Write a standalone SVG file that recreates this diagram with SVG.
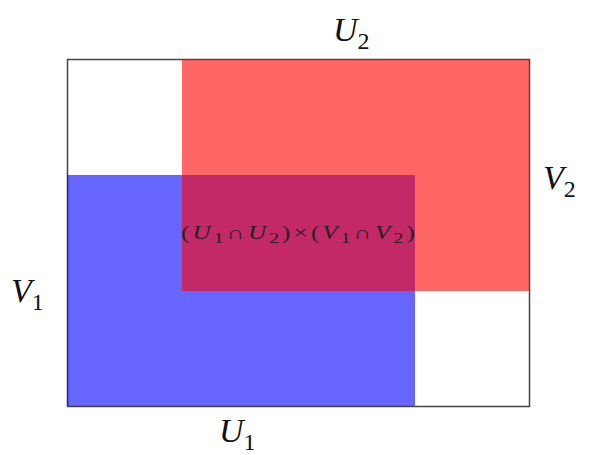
<svg xmlns="http://www.w3.org/2000/svg" width="590" height="455" viewBox="0 0 590 455">
<style>
.lbl{font-family:"Liberation Serif","DejaVu Serif",serif;font-style:italic;font-size:34px;fill:#111}
.sub{font-style:normal;font-size:24px}
.mid{font-family:"Liberation Serif","DejaVu Serif",serif;font-style:italic;font-size:18px;fill:#222}
.ms{font-style:normal;font-size:14px}
.up{font-style:normal}
</style>
<rect width="590" height="455" fill="#fff"/>
<g id="frame"><rect x="67.5" y="59.5" width="462" height="347" fill="none" stroke="#444" stroke-width="1.5"/></g>
<g id="blue"><rect x="67" y="175" width="348" height="231" fill="#0000ff" fill-opacity="0.6"/></g>
<g id="red"><rect x="182" y="59" width="347" height="232" fill="#ff0000" fill-opacity="0.6"/></g>
<g id="labels">
<text class="lbl" x="333" y="41">U<tspan class="sub" dy="8">2</tspan></text>
<text class="lbl" x="543" y="189">V<tspan class="sub" dy="8">2</tspan></text>
<text class="lbl" x="11" y="302">V<tspan class="sub" dy="8">1</tspan></text>
<text class="lbl" x="219" y="442">U<tspan class="sub" dy="8">1</tspan></text>
<text class="mid" transform="translate(181,239) scale(1.4,1)" x="0" y="0" textLength="167" lengthAdjust="spacing"><tspan class="up">(</tspan>U<tspan class="ms" dy="4">1</tspan><tspan class="up" dy="-4">∩</tspan>U<tspan class="ms" dy="4">2</tspan><tspan class="up" dy="-4">)×(</tspan>V<tspan class="ms" dy="4">1</tspan><tspan class="up" dy="-4">∩</tspan>V<tspan class="ms" dy="4">2</tspan><tspan class="up" dy="-4">)</tspan></text>
</g>
</svg>
